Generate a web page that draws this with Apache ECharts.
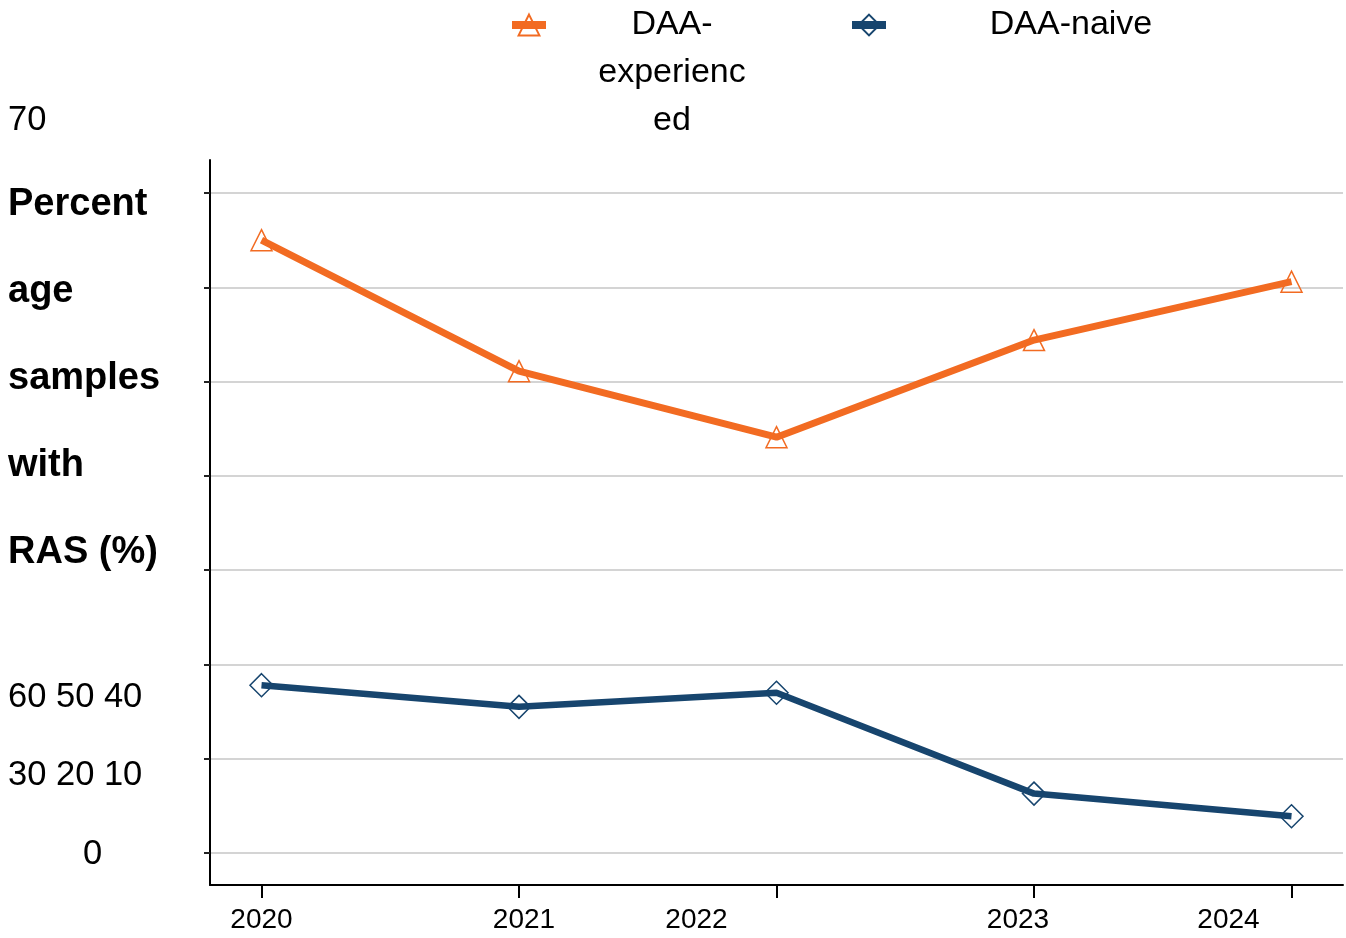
<!DOCTYPE html>
<html>
<head>
<meta charset="utf-8">
<script src="https://cdn.jsdelivr.net/npm/echarts@6/dist/echarts.min.js"></script>
<style>
html,body{margin:0;padding:0;background:#fff;}
#chart{width:1346px;height:938px;}
</style>
</head>
<body>
<div id="chart"></div>
<script>
// ---- data ----
const years = [2020, 2021, 2022, 2023, 2024];
const experienced = [65.0, 51.1, 44.1, 54.4, 60.6];
const naive = [17.8, 15.5, 17.0, 6.3, 3.9];
const seriesNames = ['DAA-experienced', 'DAA-naive'];
const legendLines = { 'DAA-experienced': ['DAA-', 'experienc', 'ed'], 'DAA-naive': ['DAA-naive'] };
const yTickLabels = ['70', '60 50 40', '30 20 10', '0'];
const yTitleLines = ['Percent', 'age', 'samples', 'with', 'RAS (%)'];

const ORANGE = '#F26B22';
const NAVY = '#17456E';
const FONT = '"Liberation Sans", Arial, sans-serif';

const chart = echarts.init(document.getElementById('chart'));

const xLabelRich = {
  o0: { fontSize: 28, fontFamily: FONT, color: '#000', padding: [0, 0, 0, 0] },
  o1: { fontSize: 28, fontFamily: FONT, color: '#000', padding: [0, 0, 0, 10] },
  o2: { fontSize: 28, fontFamily: FONT, color: '#000', padding: [0, 160, 0, 0] },
  o3: { fontSize: 28, fontFamily: FONT, color: '#000', padding: [0, 32, 0, 0] },
  o4: { fontSize: 28, fontFamily: FONT, color: '#000', padding: [0, 126, 0, 0] }
};

const option = {
  animation: false,
  backgroundColor: '#fff',
  legend: {
    left: 508,
    top: -95,
    padding: 0,
    itemWidth: 34,
    itemHeight: 26,
    itemGap: 55,
    lineStyle: { width: 8 },
    data: [
      { name: seriesNames[0], textStyle: { padding: [96, 0, 0, 0] } },
      { name: seriesNames[1] }
    ],
    formatter: function (name) {
      const key = name === seriesNames[0] ? 'e' : 'n';
      return legendLines[name].map(function (l) { return '{' + key + '|' + l + '}'; }).join('\n');
    },
    textStyle: {
      fontSize: 34, fontFamily: FONT, color: '#000', lineHeight: 48,
      rich: {
        e: { width: 242, align: 'center', fontSize: 34, fontFamily: FONT, lineHeight: 48, color: '#000' },
        n: { width: 360, align: 'center', fontSize: 34, fontFamily: FONT, lineHeight: 48, color: '#000' }
      }
    }
  },
  grid: [
    { left: 210, right: 3, top: 193, bottom: 85 },
    { left: 210, right: 3, top: 160, bottom: 53 }
  ],
  xAxis: [
    { gridIndex: 0, type: 'value', min: 2019.8, max: 2024.2, show: false },
    {
      gridIndex: 1, type: 'value', min: 2019.8, max: 2024.2,
      axisLine: { show: true, onZero: false, lineStyle: { color: '#000', width: 2 } },
      axisTick: { show: true, customValues: years, length: 13, lineStyle: { color: '#000', width: 2 } },
      axisLabel: {
        customValues: years, margin: 21, fontSize: 28, fontFamily: FONT, color: '#000',
        formatter: function (v) { return '{o' + years.indexOf(v) + '|' + v + '}'; },
        rich: xLabelRich
      },
      splitLine: { show: false }
    }
  ],
  yAxis: [
    {
      gridIndex: 0, type: 'value', min: 0, max: 70, interval: 10,
      axisLine: { show: false },
      axisTick: { show: true, length: 6, lineStyle: { color: '#222', width: 2 } },
      axisLabel: { show: false },
      splitLine: { show: true, lineStyle: { color: '#d4d4d4', width: 2.2 } }
    },
    {
      gridIndex: 1, type: 'value', min: 0, max: 1,
      axisLine: { show: true, onZero: false, lineStyle: { color: '#000', width: 2 } },
      axisTick: { show: false }, axisLabel: { show: false }, splitLine: { show: false }
    }
  ],
  series: [
    {
      name: seriesNames[0], type: 'line', xAxisIndex: 0, yAxisIndex: 0,
      data: years.map(function (y, i) { return [y, experienced[i]]; }),
      symbol: 'triangle', symbolSize: 21,
      lineStyle: { color: ORANGE, width: 7 },
      itemStyle: { color: 'rgba(255,255,255,0)', borderColor: ORANGE, borderWidth: 1.5 }
    },
    {
      name: seriesNames[1], type: 'line', xAxisIndex: 0, yAxisIndex: 0,
      data: years.map(function (y, i) { return [y, naive[i]]; }),
      symbol: 'diamond', symbolSize: 23,
      lineStyle: { color: NAVY, width: 6.5 },
      itemStyle: { color: 'rgba(255,255,255,0)', borderColor: NAVY, borderWidth: 1.5 }
    }
  ],
  graphic: [
    { type: 'text', left: 8, top: 103, style: { text: yTickLabels[0], font: '34.5px ' + FONT, lineHeight: 34, fill: '#000' } },
    { type: 'text', left: 8, top: 161, style: { text: yTitleLines.join('\n'), font: 'bold 38px ' + FONT, lineHeight: 87, fill: '#000' } },
    { type: 'text', left: 8, top: 680, style: { text: yTickLabels[1], font: '34.5px ' + FONT, lineHeight: 34, fill: '#000' } },
    { type: 'text', left: 8, top: 758, style: { text: yTickLabels[2], font: '34.5px ' + FONT, lineHeight: 34, fill: '#000' } },
    { type: 'text', left: 83, top: 837, style: { text: yTickLabels[3], font: '34.5px ' + FONT, lineHeight: 34, fill: '#000' } }
  ]
};
chart.setOption(option);
</script>
</body>
</html>
